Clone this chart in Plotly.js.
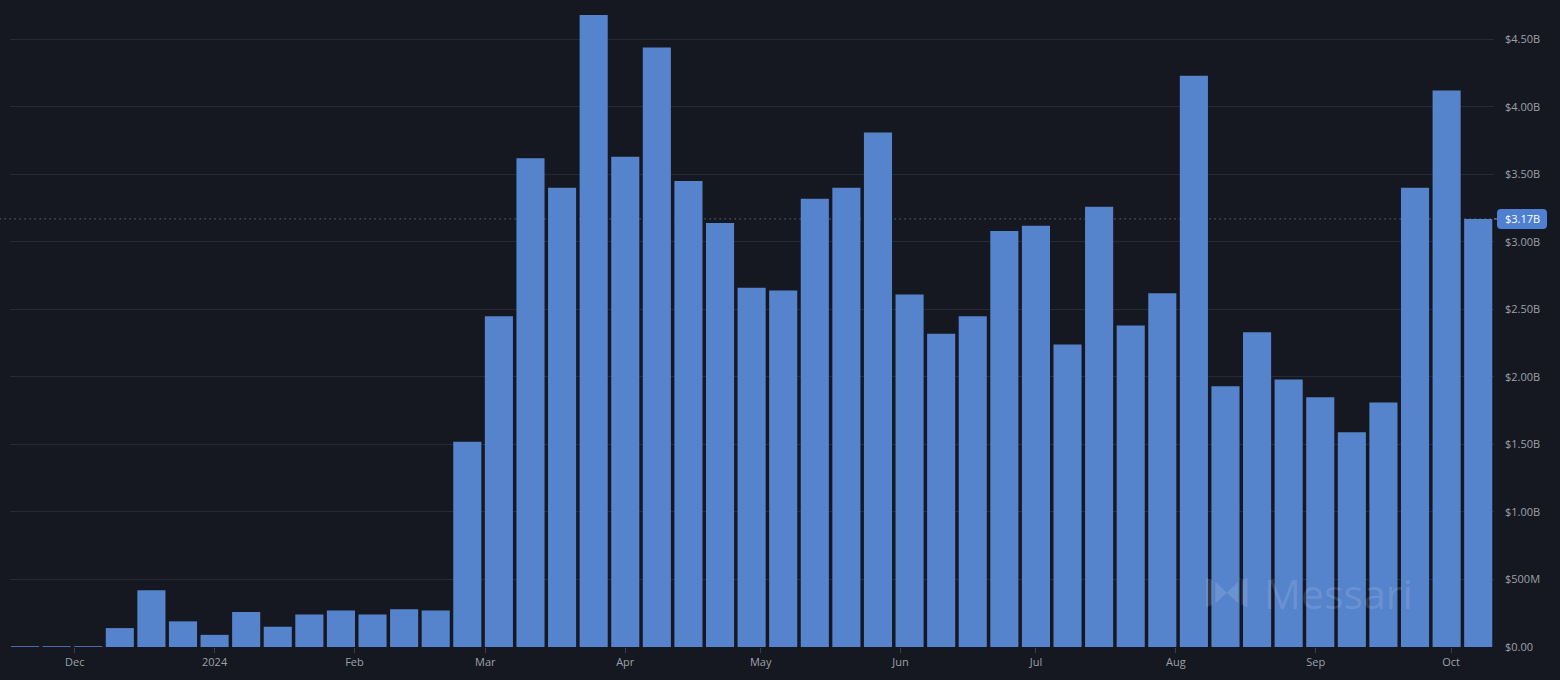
<!DOCTYPE html>
<html>
<head>
<meta charset="utf-8">
<script src="https://cdn.plot.ly/plotly-3.0.1.min.js"></script>
<style>
html,body{margin:0;padding:0;background:#151821;}
#chart{width:1560px;height:680px;}
</style>
</head>
<body>
<div id="chart"></div>
<script>
const weeks = [
  "2023-11-20","2023-11-27","2023-12-04","2023-12-11","2023-12-18","2023-12-25",
  "2024-01-01","2024-01-08","2024-01-15","2024-01-22","2024-01-29",
  "2024-02-05","2024-02-12","2024-02-19","2024-02-26",
  "2024-03-04","2024-03-11","2024-03-18","2024-03-25",
  "2024-04-01","2024-04-08","2024-04-15","2024-04-22","2024-04-29",
  "2024-05-06","2024-05-13","2024-05-20","2024-05-27",
  "2024-06-03","2024-06-10","2024-06-17","2024-06-24",
  "2024-07-01","2024-07-08","2024-07-15","2024-07-22","2024-07-29",
  "2024-08-05","2024-08-12","2024-08-19","2024-08-26",
  "2024-09-02","2024-09-09","2024-09-16","2024-09-23","2024-09-30",
  "2024-10-07"
];
// values in billions of USD
const volumeB = [
  0.006,0.006,0.006,0.14,0.42,0.19,
  0.09,0.26,0.15,0.24,0.27,
  0.24,0.28,0.27,1.52,
  2.45,3.62,3.40,4.68,
  3.63,4.44,3.45,3.14,2.66,
  2.64,3.32,3.40,3.81,
  2.61,2.32,2.45,3.08,
  3.12,2.24,3.26,2.38,2.62,
  4.23,1.93,2.33,1.98,
  1.85,1.59,1.81,3.40,4.12,
  3.17
];
const yTickVals = [0,0.5,1,1.5,2,2.5,3,3.5,4,4.5];
const yTickText = ["$0.00","$500M","$1.00B","$1.50B","$2.00B","$2.50B","$3.00B","$3.50B","$4.00B","$4.50B"];
const xTickVals = ["2023-12-01","2024-01-01","2024-02-01","2024-03-01","2024-04-01","2024-05-01","2024-06-01","2024-07-01","2024-08-01","2024-09-01","2024-10-01"];
const xTickText = ["Dec","2024","Feb","Mar","Apr","May","Jun","Jul","Aug","Sep","Oct"];
const lastValue = volumeB[volumeB.length-1];
const lastLabel = "$" + lastValue.toFixed(2) + "B";

const trace = {
  type: "bar",
  x: weeks,
  y: volumeB,
  marker: {color: "#5583cc", line: {width: 0}},
  hoverinfo: "x+y"
};

const logoSvg = 'data:image/svg+xml;utf8,' + encodeURIComponent(
 '<svg xmlns="http://www.w3.org/2000/svg" width="40" height="38" viewBox="0 0 40 38">' +
 '<g fill="#ffffff">' +
 '<polygon points="0,4 6,7 6,31 0,34"/>' +
 '<polygon points="9,8 20,19 9,30"/>' +
 '<polygon points="31,8 20,19 31,30"/>' +
 '<polygon points="34,7 40,4 40,34 34,31"/>' +
 '</g></svg>');

const r = 4;
const badgePath = `M ${3+r},-10 H ${53-r} Q 53,-10 53,${-10+r} V ${10-r} Q 53,10 ${53-r},10 H ${3+r} Q 3,10 3,${10-r} V ${-10+r} Q 3,-10 ${3+r},-10 Z`;

const layout = {
  width: 1560, height: 680,
  margin: {l: 10, r: 66, t: 15, b: 33, pad: 0},
  paper_bgcolor: "#151821",
  plot_bgcolor: "#151821",
  bargap: 0.11,
  showlegend: false,
  font: {family: "Open Sans, sans-serif", color: "#9ca1a9", size: 11},
  xaxis: {
    type: "date",
    range: ["2023-11-16 16:00", "2024-10-10 12:00"],
    tickvals: xTickVals,
    ticktext: xTickText,
    ticks: "outside",
    ticklen: 5,
    tickcolor: "#3a3f4a",
    tickfont: {size: 11, color: "#9ca1a9"},
    showgrid: false,
    zeroline: false,
    showline: false,
    fixedrange: true
  },
  yaxis: {
    side: "right",
    range: [0, 4.68],
    tickvals: yTickVals,
    ticktext: yTickText,
    tickfont: {size: 11, color: "#9ca1a9"},
    ticklabelstandoff: 10,
    showgrid: true,
    gridcolor: "#272b35",
    gridwidth: 1,
    zeroline: false,
    showline: false,
    fixedrange: true
  },
  shapes: [
    {type: "line", xref: "paper", yref: "y", x0: -0.007, x1: 1, y0: lastValue, y1: lastValue,
     line: {color: "#8a909a", width: 1, dash: "1px,4px"}, layer: "below"},
    {type: "line", xref: "paper", yref: "y", x0: 1, x1: 1.0025, y0: lastValue, y1: lastValue,
     line: {color: "#9ca1a9", width: 1}, layer: "above"},
    {type: "path", xref: "paper", yref: "y", xsizemode: "pixel", ysizemode: "pixel",
     xanchor: 1, yanchor: lastValue, path: badgePath,
     fillcolor: "#4f7fd0", line: {width: 0}, layer: "above"}
  ],
  annotations: [
    {xref: "paper", yref: "y", x: 1, xshift: 28, y: lastValue, xanchor: "center", yanchor: "middle",
     text: lastLabel, showarrow: false, font: {color: "#ffffff", size: 11}},
    {xref: "paper", yref: "paper", x: 0.8435, y: 0.085, xanchor: "left", yanchor: "middle",
     text: "Messari", showarrow: false,
     font: {family: "Open Sans, sans-serif", size: 41, color: "rgba(255,255,255,0.13)"}}
  ],
  images: [
    {source: logoSvg, xref: "paper", yref: "paper", x: 0.806, y: 0.086,
     sizex: 0.028, sizey: 0.06, xanchor: "left", yanchor: "middle",
     sizing: "stretch", opacity: 0.13, layer: "above"}
  ]
};

Plotly.newPlot("chart", [trace], layout, {displayModeBar: false, staticPlot: true});
</script>
</body>
</html>
